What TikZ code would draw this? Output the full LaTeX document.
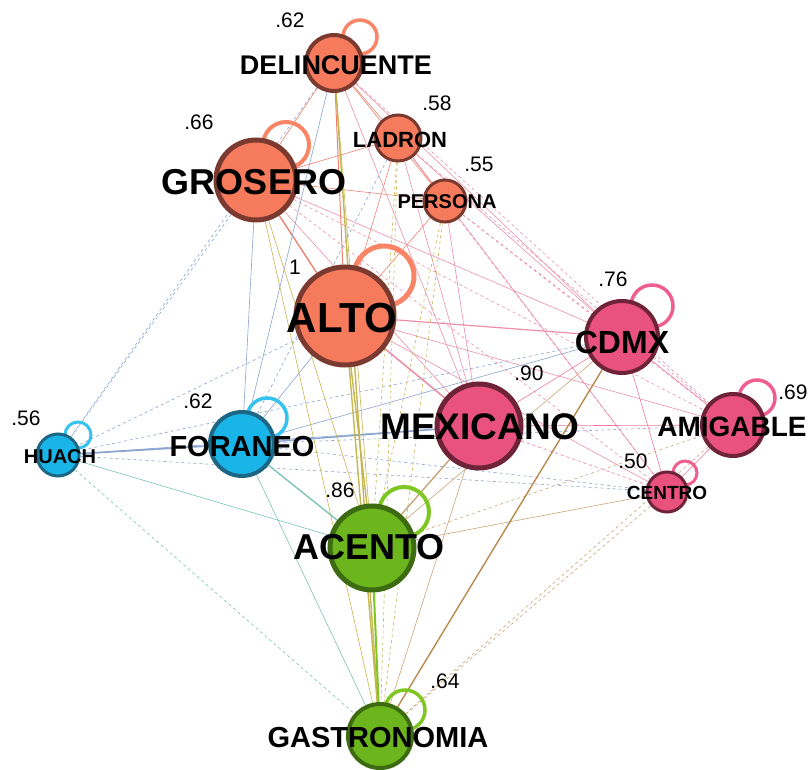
\documentclass[tikz,border=0pt]{standalone}
\usepackage{fontspec}
\setmainfont{Liberation Sans}
\usetikzlibrary{calc}
\pgfdeclarelayer{background}
\pgfsetlayers{background,main}

\definecolor{coral}{HTML}{F67A5C}
\definecolor{coraldark}{HTML}{7A3A2F}
\definecolor{corallight}{HTML}{FA8466}
\definecolor{rosa}{HTML}{E9527F}
\definecolor{rosadark}{HTML}{6E2339}
\definecolor{rosalight}{HTML}{EE5F8E}
\definecolor{azul}{HTML}{1AB5E8}
\definecolor{azuldark}{HTML}{1D6784}
\definecolor{azullight}{HTML}{35C2EE}
\definecolor{verde}{HTML}{6DB51D}
\definecolor{verdedark}{HTML}{3C6B12}
\definecolor{verdelight}{HTML}{7EC723}
\definecolor{lAA}{HTML}{EE8272}
\definecolor{lAR}{HTML}{EC8FA8}
\definecolor{lAV}{HTML}{C4B650}
\definecolor{lAZ}{HTML}{8AA3CF}
\definecolor{lRR}{HTML}{EC7A9C}
\definecolor{lRV}{HTML}{C9A477}
\definecolor{lRVdark}{HTML}{B88A4E}
\definecolor{lZV}{HTML}{79C2B5}

\tikzset{
  nodo/.style={circle,inner sep=0pt,minimum size=#1},
  nCoral/.style={nodo=#1,draw=coraldark,fill=coral,line width=4pt},
  nRosa/.style={nodo=#1,draw=rosadark,fill=rosa,line width=4pt},
  nAzul/.style={nodo=#1,draw=azuldark,fill=azul,line width=4pt},
  nVerde/.style={nodo=#1,draw=verdedark,fill=verde,line width=4pt},
  etiq/.style={inner sep=0pt,font=\fontsize{#1}{#1}\selectfont\bfseries},
  valor/.style={inner sep=0pt,font=\fontsize{21}{21}\selectfont},
  lazo/.style={line width=4pt,draw=#1},
  eAA/.style={draw=lAA,line width=0.6pt},
  eAR/.style={draw=lAR,line width=0.6pt},
  eAV/.style={draw=lAV,line width=0.6pt},
  eAZ/.style={draw=lAZ,line width=0.6pt},
  eRR/.style={draw=lRR,line width=0.6pt},
  eRV/.style={draw=lRV,line width=0.6pt},
  eZV/.style={draw=lZV,line width=0.6pt},
  eVV/.style={draw=verdelight,line width=2pt}
}

\begin{document}
\begin{tikzpicture}[x=1pt,y=-1pt]
    \useasboundingbox (0,0) rectangle (812,770);

    % circles
    \node[nCoral=56] (deli) at (334,63) {};
    \node[nCoral=80,line width=5pt] (gros) at (256,180) {};
    \node[nCoral=46,line width=3pt] (ladr) at (398,138) {};
    \node[nCoral=42,line width=3pt] (pers) at (445,201) {};
    \node[nCoral=98,line width=5pt] (alto) at (345,316) {};
    \node[nRosa=72] (cdmx) at (622,337) {};
    \node[nRosa=84,line width=5pt] (mexi) at (479,426) {};
    \node[nRosa=62] (amig) at (733,425) {};
    \node[nRosa=40,line width=3pt] (cent) at (667,492) {};
    \node[nAzul=42,line width=3pt] (huac) at (58,455) {};
    \node[nAzul=64] (fora) at (242,444) {};
    \node[nVerde=84,line width=5pt] (acen) at (372,548) {};
    \node[nVerde=64] (gast) at (380,736) {};

    \begin{pgfonlayer}{background}
    \foreach \a/\b in {deli/gros,deli/ladr,deli/pers,gros/ladr,gros/pers,ladr/alto,ladr/pers,pers/alto}
        \draw[eAA] (\a) -- (\b);
    \draw[eAA,line width=1.4pt] (gros) -- (alto);
    \draw[eAA,line width=1pt] (deli) -- (alto);

    \foreach \a/\b in {deli/cdmx,deli/mexi,gros/cdmx,gros/mexi,ladr/cdmx,ladr/cent,ladr/mexi,pers/mexi,alto/amig,alto/cent}
        \draw[eAR] (\a) -- (\b);
    \foreach \a/\b in {deli/amig,gros/amig,gros/cent,ladr/amig,pers/cdmx,pers/amig,pers/cent}
        \draw[eAR,dashed] (\a) -- (\b);
    \draw[eAR,line width=1.2pt] (alto) -- (cdmx);
    \draw[eAR,line width=1.6pt] (alto) -- (mexi);

    \foreach \a/\b in {deli/fora,gros/fora,alto/fora,cdmx/fora,mexi/huac}
        \draw[eAZ] (\a) -- (\b);
    \foreach \a/\b in {deli/huac,gros/huac,ladr/fora,alto/huac,cdmx/huac,amig/fora,cent/fora,cent/huac}
        \draw[eAZ,dashed] (\a) -- (\b);
    \draw[eAZ,line width=1.4pt] (mexi) -- (fora);
    \draw[eAZ,line width=1.6pt] (huac) -- (fora);

    \foreach \a/\b in {deli/acen,gros/acen,gros/gast}
        \draw[eAV] (\a) -- (\b);
    \foreach \a/\b in {ladr/acen,ladr/gast,pers/acen,pers/gast}
        \draw[eAV,dashed] (\a) -- (\b);
    \foreach \a/\b in {deli/gast,alto/acen,alto/gast}
        \draw[eAV,line width=1.4pt] (\a) -- (\b);

    \foreach \a/\b in {cdmx/mexi,cdmx/amig,cdmx/cent,mexi/amig,amig/cent}
        \draw[eRR] (\a) -- (\b);
    \draw[eRR,dashed] (mexi) -- (cent);

    \foreach \a/\b in {cdmx/acen,mexi/gast,cent/acen}
        \draw[eRV] (\a) -- (\b);
    \foreach \a/\b in {amig/acen,amig/gast,cent/gast}
        \draw[eRV,dashed] (\a) -- (\b);
    \draw[eRV,draw=lRVdark,line width=1.4pt] (cdmx) -- (gast);
    \draw[eRV,line width=1.4pt] (mexi) -- (acen);

    \draw[eZV] (huac) -- (acen);
    \draw[eZV,dashed] (huac) -- (gast);
    \draw[eZV,line width=1.4pt] (fora) -- (acen);
    \draw[eZV] (fora) -- (gast);
    \draw[eVV] (acen) -- (gast);

    % self loops
    \draw[lazo=corallight,line width=3.5pt] ($(deli)+(26,-26)$) circle[radius=17pt];
    \draw[lazo=corallight] ($(gros)+(30,-35)$) circle[radius=23pt];
    \draw[lazo=corallight,line width=5pt] ($(alto)+(39,-40)$) circle[radius=30pt];
    \draw[lazo=rosalight,line width=3.5pt] ($(cdmx)+(30,-31)$) circle[radius=21pt];
    \draw[lazo=rosalight,line width=3.5pt] ($(amig)+(24,-27)$) circle[radius=18pt];
    \draw[lazo=rosalight,line width=3pt] ($(cent)+(18,-19)$) circle[radius=12pt];
    \draw[lazo=azullight,line width=3pt] ($(huac)+(20,-20)$) circle[radius=13pt];
    \draw[lazo=azullight,line width=3.5pt] ($(fora)+(25,-26)$) circle[radius=20pt];
    \draw[lazo=verdelight] ($(acen)+(32,-36)$) circle[radius=25pt];
    \draw[lazo=verdelight,line width=3.5pt] ($(gast)+(25,-26)$) circle[radius=20pt];
    \end{pgfonlayer}

    % labels
    \node[etiq=27] (tdeli) at (336,65) {DELINCUENTE};
    \node[etiq=36] (tgros) at (254,182) {GROSERO};
    \node[etiq=22] (tladr) at (400,140) {LADRON};
    \node[etiq=20] (tpers) at (447,202) {PERSONA};
    \node[etiq=42] (talto) at (342,318) {ALTO};
    \node[etiq=32] (tcdmx) at (622,342) {CDMX};
    \node[etiq=37] (tmexi) at (480,427) {MEXICANO};
    \node[etiq=28] (tamig) at (732,427) {AMIGABLE};
    \node[etiq=19] (tcent) at (667,493) {CENTRO};
    \node[etiq=20] (thuac) at (60,457) {HUACH};
    \node[etiq=29] (tfora) at (242,447) {FORANEO};
    \node[etiq=36] (tacen) at (369,547) {ACENTO};
    \node[etiq=29] (tgast) at (378,738) {GASTRONOMIA};

    % weights
    \node[valor] (vdeli) at (290,20) {.62};
    \node[valor] (vgros) at (199,122) {.66};
    \node[valor] (vladr) at (437,103) {.58};
    \node[valor] (vpers) at (479,164) {.55};
    \node[valor] (valto) at (295,267) {1};
    \node[valor] (vcdmx) at (613,279) {.76};
    \node[valor] (vmexi) at (529,373) {.90};
    \node[valor] (vamig) at (793,392) {.69};
    \node[valor] (vcent) at (633,461) {.50};
    \node[valor] (vhuac) at (26,418) {.56};
    \node[valor] (vfora) at (198,401) {.62};
    \node[valor] (vacen) at (340,490) {.86};
    \node[valor] (vgast) at (445,681) {.64};
\end{tikzpicture}
\end{document}
